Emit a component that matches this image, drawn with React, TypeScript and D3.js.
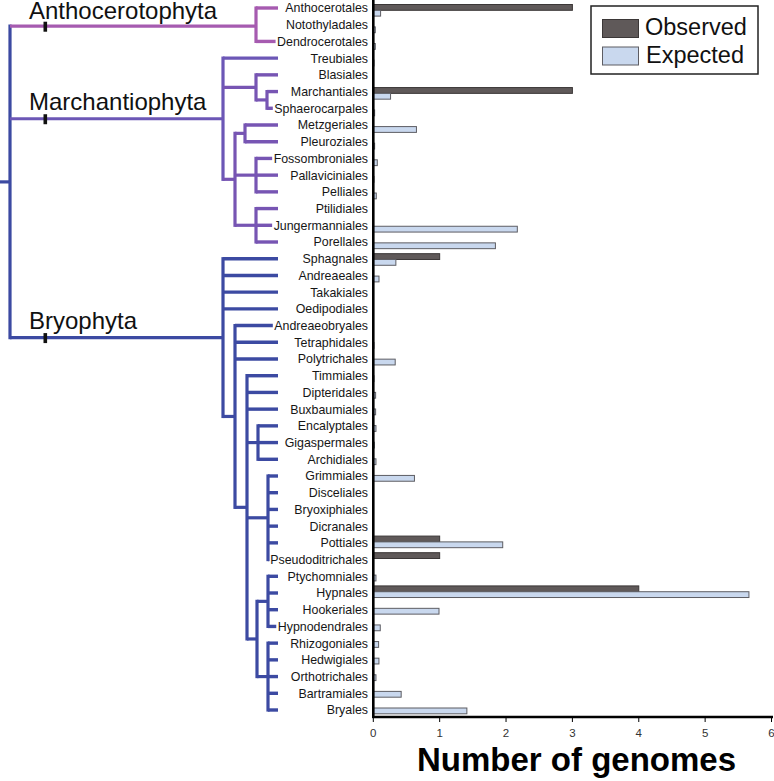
import React from "react";
import * as d3 from "d3";

const taxa = [
  "Anthocerotales", "Notothyladales", "Dendrocerotales",
  "Treubiales", "Blasiales", "Marchantiales", "Sphaerocarpales", "Metzgeriales",
  "Pleuroziales", "Fossombroniales", "Pallaviciniales", "Pelliales", "Ptilidiales",
  "Jungermanniales", "Porellales",
  "Sphagnales", "Andreaeales", "Takakiales", "Oedipodiales", "Andreaeobryales",
  "Tetraphidales", "Polytrichales", "Timmiales", "Dipteridales", "Buxbaumiales",
  "Encalyptales", "Gigaspermales", "Archidiales", "Grimmiales", "Disceliales",
  "Bryoxiphiales", "Dicranales", "Pottiales", "Pseudoditrichales", "Ptychomniales",
  "Hypnales", "Hookeriales", "Hypnodendrales", "Rhizogoniales", "Hedwigiales",
  "Orthotrichales", "Bartramiales", "Bryales",
];

const observed = [
  3, 0, 0,
  0, 0, 3, 0, 0,
  0, 0, 0, 0, 0,
  0, 0,
  1, 0, 0, 0, 0,
  0, 0, 0, 0, 0,
  0, 0, 0, 0, 0,
  0, 0, 1, 1, 0,
  4, 0, 0, 0, 0,
  0, 0, 0,
];

const expected = [
  0.11, 0.03, 0.03,
  0.01, 0, 0.26, 0.02, 0.65,
  0.02, 0.06, 0.01, 0.045, 0,
  2.17, 1.84,
  0.34, 0.086, 0, 0, 0,
  0.01, 0.33, 0.01, 0.035, 0.035,
  0.04, 0.015, 0.04, 0.62, 0,
  0, 0, 1.95, 0, 0.04,
  5.66, 0.99, 0.105, 0.08, 0.085,
  0.04, 0.42, 1.41,
];

const xTicks = [0, 1, 2, 3, 4, 5, 6];
const seriesNames = ["Observed", "Expected"];
const phyla = ["Anthocerotophyta", "Marchantiophyta", "Bryophyta"];

// tree topology: clade id -> children (taxon names or clade ids)
const cladeChildren: Record<string, string[]> = {
  root: ["antho", "march", "bryo"],
  antho: ["Anthocerotales", "Dendrocerotales"],
  march: ["Treubiales", "m1", "m2"],
  m1: ["Blasiales", "m1a"],
  m1a: ["Marchantiales", "Sphaerocarpales"],
  m2: ["m2a", "m2b", "m2c"],
  m2a: ["Metzgeriales", "Pleuroziales"],
  m2b: ["Fossombroniales", "Pallaviciniales", "Pelliales"],
  m2c: ["Ptilidiales", "Jungermanniales", "Porellales"],
  bryo: ["Sphagnales", "Andreaeales", "Takakiales", "Oedipodiales", "bA"],
  bA: ["Andreaeobryales", "Tetraphidales", "Polytrichales", "bB"],
  bB: ["Timmiales", "Dipteridales", "Buxbaumiales", "bE", "bG", "bC"],
  bE: ["Encalyptales", "Gigaspermales", "Archidiales"],
  bG: ["Grimmiales", "Disceliales", "Bryoxiphiales", "Dicranales", "Pottiales", "Pseudoditrichales"],
  bC: ["bH", "bR"],
  bH: ["Ptychomniales", "Hypnales", "Hookeriales", "Hypnodendrales"],
  bR: ["Rhizogoniales", "Hedwigiales", "Orthotrichales", "Bartramiales", "Bryales"],
};

// layout (horizontal position of each clade's vertical bar)
const cladeX: Record<string, number> = {
  root: 10, antho: 256, march: 223, m1: 256, m1a: 267, m2: 235, m2a: 245, m2b: 256, m2c: 256,
  bryo: 223, bA: 235, bB: 247, bE: 258, bG: 268, bC: 257, bH: 268, bR: 268,
};
const cladeColor: Record<string, string> = {
  root: "#3c4aa2", antho: "#a65bb0", march: "#6c57b6", m1: "#7755b3", m1a: "#7755b3",
  m2: "#7755b3", m2a: "#7755b3", m2b: "#7755b3", m2c: "#7755b3",
  bryo: "#3c4aa2", bA: "#3c4aa2", bB: "#3c4aa2", bE: "#3c4aa2", bG: "#3c4aa2", bC: "#3c4aa2", bH: "#3c4aa2", bR: "#3c4aa2",
};
const phylumClade: Record<string, string> = { Anthocerotophyta: "antho", Marchantiophyta: "march", Bryophyta: "bryo" };

const LABEL_FONT = "12.4px 'Liberation Sans', Arial, sans-serif";
const FF = "'Liberation Sans', Arial, Helvetica, sans-serif";

function measure(text: string): number {
  if (typeof document === "undefined") return text.length * 6.5;
  const c = document.createElement("canvas").getContext("2d");
  if (!c) return text.length * 6.5;
  c.font = LABEL_FONT;
  return c.measureText(text).width;
}

export default function App() {
  const W = 774, H = 781;
  const yLabel = d3.scalePoint<string>().domain(taxa).range([8, 710]);
  const yBar = d3.scalePoint<string>().domain(taxa).range([10.3, 708]);
  const x = d3.scaleLinear().domain([0, 6]).range([373.3, 771.5]);
  const labelRight = 368;
  const barH = 5.8;

  const nodeY: Record<string, number> = {};
  const getY = (id: string): number => {
    if (!(id in cladeChildren)) return yLabel(id)!;
    if (nodeY[id] !== undefined) return nodeY[id];
    const ys = cladeChildren[id].map(getY);
    const v = (ys[0] + ys[ys.length - 1]) / 2 + (id === "antho" ? 1.5 : 0);
    nodeY[id] = v;
    return v;
  };
  getY("root");

  const lines: React.ReactNode[] = [];
  const walk = (id: string) => {
    const cx = cladeX[id];
    const col = cladeColor[id];
    const kids = cladeChildren[id];
    const ys = kids.map(getY);
    lines.push(
      <line key={"v" + id} x1={cx} x2={cx} y1={ys[0]} y2={ys[ys.length - 1]} stroke={col} strokeWidth={3.2} strokeLinecap="square" />
    );
    kids.forEach((k, i) => {
      if (k in cladeChildren) {
        const kc = cladeColor[k];
        lines.push(
          <line key={"h" + k} x1={cx} x2={cladeX[k]} y1={ys[i]} y2={ys[i]} stroke={kc} strokeWidth={3.2} />
        );
        walk(k);
      } else {
        const start = labelRight - measure(k);
        const end = Math.min(278, start - 1.5);
        if (end > cx) {
          lines.push(
            <line key={"l" + k} x1={cx} x2={end} y1={ys[i]} y2={ys[i]} stroke={col} strokeWidth={3.4} />
          );
        }
      }
    });
  };
  walk("root");
  const rootY = getY("root");

  return (
    <svg width={W} height={H} style={{ position: "absolute", left: 0, top: 0, background: "#fff" }} fontFamily={FF}>
      <rect x={0} y={0} width={W} height={H} fill="#fff" />
      <line x1={0} x2={cladeX.root} y1={rootY} y2={rootY} stroke={cladeColor.root} strokeWidth={3.2} />
      {lines}
      {phyla.map((p) => {
        const yy = getY(phylumClade[p]);
        const base = p === "Anthocerotophyta" ? 19 : yy - 8.5;
        return (
          <g key={p}>
            <rect x={43.5} y={yy - 4.5} width={3.6} height={10} fill="#111" />
            <text x={29} y={base} fontSize={24} fill="#111">{p}</text>
          </g>
        );
      })}
      {taxa.map((t) => (
        <text key={t} x={labelRight} y={yLabel(t)} dy="0.36em" textAnchor="end" fontSize={12.4} fill="#161616">{t}</text>
      ))}
      {taxa.map((t, i) => {
        const yb = yBar(t)!;
        return (
          <g key={"b" + t}>
            {observed[i] > 0 && (
              <rect x={x(0)} y={yb - barH} width={x(observed[i]) - x(0)} height={barH} fill="#5f5959" stroke="#3b3737" strokeWidth={1} />
            )}
            {expected[i] > 0 && (
              <rect x={x(0)} y={yb} width={x(expected[i]) - x(0)} height={barH} fill="#c9d8ee" stroke="#5d5d63" strokeWidth={1} />
            )}
          </g>
        );
      })}
      <line x1={x(0)} x2={x(0)} y1={0} y2={718} stroke="#000" strokeWidth={2.6} />
      <line x1={x(0) - 1} x2={773} y1={717} y2={717} stroke="#000" strokeWidth={2.6} />
      {xTicks.map((v) => (
        <g key={"t" + v}>
          <line x1={x(v)} x2={x(v)} y1={717} y2={722} stroke="#000" strokeWidth={1} />
          <text x={x(v)} y={737} textAnchor="middle" fontSize={11.5} fill="#333">{v}</text>
        </g>
      ))}
      <text x={576.5} y={771} textAnchor="middle" fontSize={33} fontWeight="bold" fill="#000">Number of genomes</text>
      <rect x={591} y={6} width={167} height={68} fill="#fff" stroke="#222" strokeWidth={1.5} />
      <rect x={602.5} y={19.5} width={36} height={18} fill="#5f5959" stroke="#3b3737" strokeWidth={1} />
      <rect x={602.5} y={47} width={36} height={18} fill="#c9d8ee" stroke="#5d5d63" strokeWidth={1} />
      <text x={645} y={35} fontSize={23.5} fill="#111">{seriesNames[0]}</text>
      <text x={646} y={62.5} fontSize={23.5} fill="#111">{seriesNames[1]}</text>
    </svg>
  );
}
